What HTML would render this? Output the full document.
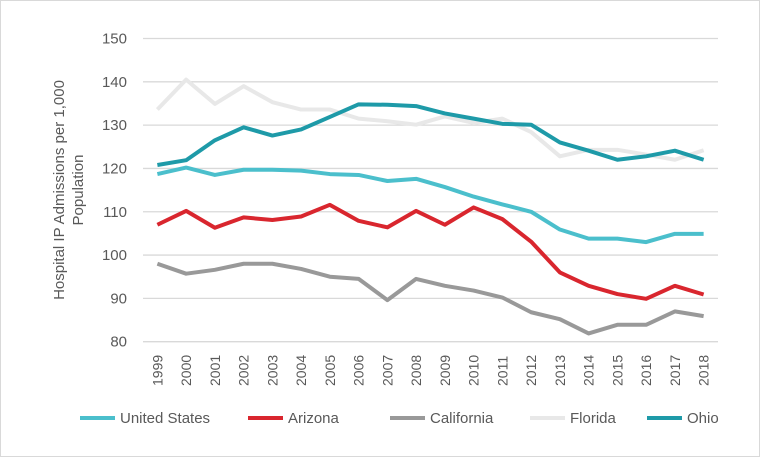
<!DOCTYPE html>
<html><head><meta charset="utf-8"><style>
body{margin:0;background:#fff}
svg{display:block;font-family:"Liberation Sans",sans-serif}
</style></head><body>
<svg id="chart" width="760" height="457">
<rect x="0.5" y="0.5" width="759" height="456" fill="#fff" stroke="#d9d9d9"/>
<g id="grid"></g><g id="series"></g><g id="xt"></g><g id="yt"></g>
<text transform="translate(64,190) rotate(-90)" text-anchor="middle" font-size="15" fill="#595959"><tspan x="0" dy="0">Hospital IP Admissions per 1,000</tspan><tspan x="0" dy="19">Population</tspan></text>
<g id="legend"></g>
</svg>
<script>
const years=[1999,2000,2001,2002,2003,2004,2005,2006,2007,2008,2009,2010,2011,2012,2013,2014,2015,2016,2017,2018];
const usValues=[118.7,120.2,118.5,119.7,119.7,119.5,118.7,118.5,117.1,117.6,115.7,113.5,111.7,110,105.9,103.8,103.8,103,104.9,104.9];
const azValues=[107,110.2,106.3,108.7,108.1,108.9,111.6,107.9,106.4,110.2,107,111,108.3,103.1,96,92.9,91,89.9,92.9,90.9];
const caValues=[98,95.7,96.6,98,98,96.8,95,94.5,89.6,94.5,92.9,91.8,90.2,86.8,85.2,81.9,83.9,83.9,87,85.9];
const flValues=[133.6,140.5,134.9,139,135.3,133.6,133.6,131.5,130.9,130.1,132,130.5,131.5,128.4,122.8,124.3,124.3,123.2,122,124.2];
const ohValues=[120.8,121.9,126.5,129.5,127.6,129,131.9,134.8,134.7,134.4,132.7,131.5,130.3,130.1,126,124.1,122,122.8,124.1,122];
const yTicks=[80,90,100,110,120,130,140,150];
const seriesNames=["United States","Arizona","California","Florida","Ohio"];
const NS="http://www.w3.org/2000/svg";
const L=143,R=718,T=38.5,B=341.7;
const x=i=>L+(R-L)/years.length*(i+0.5);
const y=v=>B-(v-80)/70*(B-T);
function mk(t,a,p){const e=document.createElementNS(NS,t);for(const k in a)e.setAttribute(k,a[k]);p.appendChild(e);return e;}
const grid=document.getElementById('grid'),yt=document.getElementById('yt'),xt=document.getElementById('xt');
yTicks.forEach(v=>{
 const l=mk('line',{x1:L,x2:R,y1:y(v),y2:y(v),stroke:'#d9d9d9','stroke-width':1.3},grid);
 
 
 const t=mk('text',{x:127,y:y(v)+5,'text-anchor':'end','font-size':15,fill:'#595959'},yt);
 t.textContent=v;
 
 
});
years.forEach((yr,i)=>{
 const t=mk('text',{transform:`translate(${x(i)+5},${386}) rotate(-90)`,'font-size':14,fill:'#595959'},xt);
 t.textContent=yr;
 
 
});
const data=[usValues,azValues,caValues,flValues,ohValues];
const colors=["#4bbfcc","#d9262e","#999999","#e8e8e8","#1e9aa8"];
const order=[3,2,0,1,4];
const sg=document.getElementById('series');
order.forEach(k=>{
 const p=mk('polyline',{points:data[k].map((v,i)=>x(i)+','+y(v)).join(' '),fill:'none',stroke:colors[k],'stroke-width':4,'stroke-linejoin':'round'},sg);
 
 
});
const lg=document.getElementById('legend');
const lx=[80,248,390,530,647];
seriesNames.forEach((n,k)=>{
 const g=mk('g',{},lg);
 
 
 mk('line',{x1:lx[k],x2:lx[k]+35,y1:418,y2:418,stroke:colors[k],'stroke-width':4},g);
 const t=mk('text',{x:lx[k]+40,y:423,'font-size':15,fill:'#595959'},g);
 t.textContent=n;
});
</script>
</body></html>
